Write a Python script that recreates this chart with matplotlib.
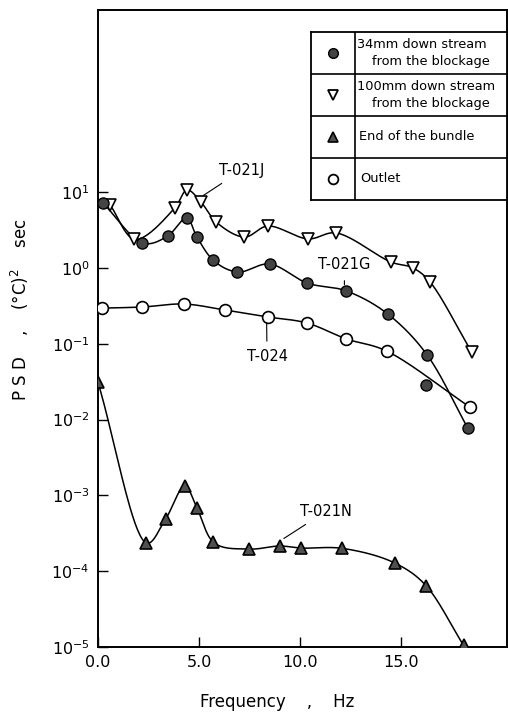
import numpy as np
import matplotlib
matplotlib.use("Agg")
import matplotlib.pyplot as plt

plt.rcParams["font.family"] = ["DejaVu Sans"]
plt.rcParams["mathtext.fontset"] = "dejavusans"

# 34mm down stream from the blockage (T-021G)
g_freq = [0.25, 2.2, 3.45, 4.4, 4.9, 5.7, 6.9, 8.5, 10.35, 12.3, 14.35, 16.3, 18.3]
g_psd = [7.2, 2.14, 2.64, 4.57, 2.56, 1.27, 0.885, 1.13, 0.634, 0.498, 0.247, 0.071, 0.0078]
# stray point off the fitted curve
g_extra_freq = [16.25]
g_extra_psd = [0.029]

# 100mm down stream from the blockage (T-021J)
j_freq = [0.6, 1.8, 3.8, 4.4, 5.1, 5.85, 7.25, 8.4, 10.4, 11.8, 14.5, 15.6, 16.45, 18.5]
j_psd = [6.8, 2.4, 6.2, 10.7, 7.4, 4.05, 2.56, 3.58, 2.42, 2.9, 1.2, 1.0, 0.65, 0.078]

# end of the bundle (T-021N)
n_freq = [0.0, 2.4, 3.35, 4.3, 4.9, 5.7, 7.5, 9.0, 10.05, 12.1, 14.7, 16.25, 18.1]
n_psd = [0.031, 2.35e-4, 4.9e-4, 1.33e-3, 6.8e-4, 2.43e-4, 1.96e-4, 2.15e-4, 2.02e-4,
         2.0e-4, 1.28e-4, 6.4e-5, 1.05e-5]

# outlet (T-024)
o_freq = [0.2, 2.2, 4.25, 6.3, 8.4, 10.35, 12.3, 14.3, 18.4]
o_psd = [0.296, 0.306, 0.335, 0.279, 0.226, 0.188, 0.116, 0.080, 0.0147]

x_ticks = [0, 5, 10, 15]
x_tick_labels = ["0.0", "5.0", "10.0", "15.0"]
y_ticks = [1e-5, 1e-4, 1e-3, 1e-2, 1e-1, 1e0, 1e1]
y_tick_labels = ["$10^{-5}$", "$10^{-4}$", "$10^{-3}$", "$10^{-2}$",
                 "$10^{-1}$", "$10^{0}$", "$10^{1}$"]


def smooth(xs, ys, n=40):
    # centripetal catmull-rom, x and log(psd) scaled to roughly equal units
    P = np.column_stack([np.array(xs, float) / 20.0,
                         np.log10(np.array(ys, float)) / 8.4])
    P = np.vstack([2 * P[0] - P[1], P, 2 * P[-1] - P[-2]])
    pts = []
    for i in range(1, len(P) - 2):
        p0, p1, p2, p3 = P[i - 1], P[i], P[i + 1], P[i + 2]
        t0 = 0.0
        t1 = t0 + np.linalg.norm(p1 - p0) ** 0.5
        t2 = t1 + np.linalg.norm(p2 - p1) ** 0.5
        t3 = t2 + np.linalg.norm(p3 - p2) ** 0.5
        t = np.linspace(t1, t2, n)[:, None]
        a1 = (t1 - t) / (t1 - t0) * p0 + (t - t0) / (t1 - t0) * p1
        a2 = (t2 - t) / (t2 - t1) * p1 + (t - t1) / (t2 - t1) * p2
        a3 = (t3 - t) / (t3 - t2) * p2 + (t - t2) / (t3 - t2) * p3
        b1 = (t2 - t) / (t2 - t0) * a1 + (t - t0) / (t2 - t0) * a2
        b2 = (t3 - t) / (t3 - t1) * a2 + (t - t1) / (t3 - t1) * a3
        c = (t2 - t) / (t2 - t1) * b1 + (t - t1) / (t2 - t1) * b2
        pts.append(c)
    pts = np.vstack(pts)
    return pts[:, 0] * 20.0, 10 ** (pts[:, 1] * 8.4)


fig = plt.figure(figsize=(5.08, 7.22), dpi=100)
ax = fig.add_axes([98 / 508, 75 / 722, 409 / 508, 637 / 722])

ax.set_yscale("log")
ax.set_xlim(0, 20.25)
ax.set_ylim(1e-5, 10 ** 3.404)

lw = 1.1
for xs, ys in ((g_freq, g_psd), (j_freq, j_psd), (n_freq, n_psd), (o_freq, o_psd)):
    sx, sy = smooth(xs, ys)
    ax.plot(sx, sy, color="black", lw=lw, zorder=2)

ax.plot(j_freq, j_psd, linestyle="none", marker="v", ms=8.5, mfc="white",
        mec="black", mew=1.2, zorder=3)
ax.plot(g_freq + g_extra_freq, g_psd + g_extra_psd, linestyle="none", marker="o",
        ms=8, mfc="#444444", mec="black", mew=1.0, zorder=4)
ax.plot(o_freq, o_psd, linestyle="none", marker="o", ms=8.5, mfc="white",
        mec="black", mew=1.2, zorder=3)
ax.plot(n_freq, n_psd, linestyle="none", marker="^", ms=8.5, mfc="#505050",
        mec="black", mew=1.2, zorder=3)

ax.set_xticks(x_ticks)
ax.set_xticklabels(x_tick_labels)
ax.set_yticks(y_ticks)
ax.set_yticklabels(y_tick_labels)
ax.minorticks_off()
ax.tick_params(direction="in", length=7, width=1.0, labelsize=11.5, pad=6)
for s in ax.spines.values():
    s.set_linewidth(1.4)

# curve labels with leader lines
ann = dict(fontsize=10.5, ha="center", va="center",
           arrowprops=dict(arrowstyle="-", color="black", lw=0.8, shrinkA=4, shrinkB=0))
ax.annotate("T-021J", xy=(5.2, 9.0), xytext=(7.13, 19.6), **ann)
ax.annotate("T-021G", xy=(12.2, 0.6), xytext=(12.2, 1.1), **ann)
ax.annotate("T-024", xy=(8.35, 0.19), xytext=(8.37, 0.067), **ann)
ax.annotate("T-021N", xy=(9.2, 2.7e-4), xytext=(11.3, 6.2e-4), **ann)

fig.text(20 / 508, 1 - 310 / 722, r"P S D    ,    ($\degree$C)$^2$    sec",
         rotation=90, ha="center", va="center", fontsize=12)
fig.text(277 / 508, 1 - 702 / 722, "Frequency    ,    Hz", ha="center",
         va="center", fontsize=12)

# legend drawn as a small table
lg = fig.add_axes([311 / 508, 1 - 200 / 722, 196 / 508, 168 / 722])
lg.set_xlim(0, 1)
lg.set_ylim(0, 4)
lg.set_xticks([])
lg.set_yticks([])
for s in lg.spines.values():
    s.set_linewidth(1.3)
lg.axvline(0.224, color="black", lw=1.2)
for r in (1, 2, 3):
    lg.axhline(r, color="black", lw=1.2)

key_x = 0.112
lg.plot(key_x, 3.5, marker="o", ms=7, mfc="#444444", mec="black", mew=1.0)
lg.plot(key_x, 2.5, marker="v", ms=7.5, mfc="white", mec="black", mew=1.3)
lg.plot(key_x, 1.5, marker="^", ms=7, mfc="#505050", mec="black", mew=1.2)
lg.plot(key_x, 0.5, marker="o", ms=7, mfc="white", mec="black", mew=1.3)

fs = 9.3
lg.text(0.235, 3.7, "34mm down stream", fontsize=fs, va="center")
lg.text(0.31, 3.3, "from the blockage", fontsize=fs, va="center")
lg.text(0.235, 2.7, "100mm down stream", fontsize=fs, va="center")
lg.text(0.31, 2.3, "from the blockage", fontsize=fs, va="center")
lg.text(0.245, 1.5, "End of the bundle", fontsize=fs, va="center")
lg.text(0.25, 0.5, "Outlet", fontsize=fs, va="center")

fig.savefig("out.png", dpi=100)
